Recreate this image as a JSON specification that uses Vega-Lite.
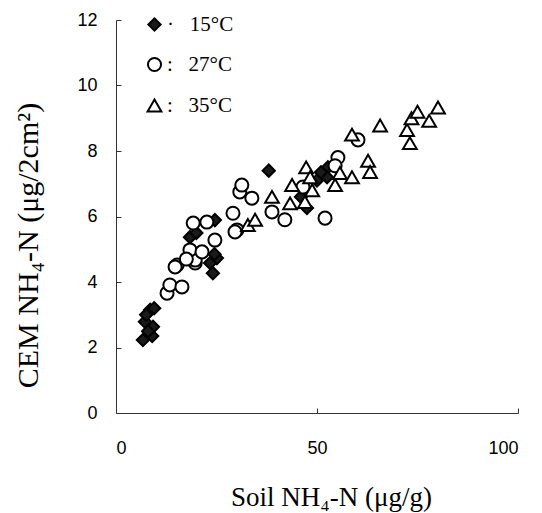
{
  "$schema": "https://vega.github.io/schema/vega-lite/v6.json",
  "width": 402,
  "height": 393,
  "autosize": "none",
  "padding": {"left": 116, "top": 20, "right": 24, "bottom": 100},
  "background": "white",
  "config": {"view": {"stroke": null}},
  "data": {"values": [
    {"t": "15°C", "x": 6.7, "y": 2.23},
    {"t": "15°C", "x": 9.0, "y": 2.35},
    {"t": "15°C", "x": 7.2, "y": 2.79},
    {"t": "15°C", "x": 9.2, "y": 2.63},
    {"t": "15°C", "x": 8.5, "y": 3.15},
    {"t": "15°C", "x": 7.5, "y": 3.0},
    {"t": "15°C", "x": 8.0, "y": 2.5},
    {"t": "15°C", "x": 9.5, "y": 3.2},
    {"t": "15°C", "x": 18.4, "y": 5.37},
    {"t": "15°C", "x": 20.0, "y": 5.5},
    {"t": "15°C", "x": 24.6, "y": 5.89},
    {"t": "15°C", "x": 23.4, "y": 4.58},
    {"t": "15°C", "x": 24.1, "y": 4.27},
    {"t": "15°C", "x": 25.1, "y": 4.73},
    {"t": "15°C", "x": 24.5, "y": 4.85},
    {"t": "15°C", "x": 38.0, "y": 7.4},
    {"t": "15°C", "x": 47.5, "y": 6.26},
    {"t": "15°C", "x": 50.0, "y": 7.1},
    {"t": "15°C", "x": 52.7, "y": 7.5},
    {"t": "15°C", "x": 52.5, "y": 7.2},
    {"t": "15°C", "x": 51.0, "y": 7.35},
    {"t": "15°C", "x": 46.0, "y": 6.6},
    {"t": "27°C", "x": 12.7, "y": 3.66},
    {"t": "27°C", "x": 13.4, "y": 3.91},
    {"t": "27°C", "x": 16.4, "y": 3.85},
    {"t": "27°C", "x": 15.2, "y": 4.52},
    {"t": "27°C", "x": 14.7, "y": 4.46},
    {"t": "27°C", "x": 19.7, "y": 4.58},
    {"t": "27°C", "x": 19.7, "y": 4.67},
    {"t": "27°C", "x": 18.4, "y": 4.98},
    {"t": "27°C", "x": 21.4, "y": 4.92},
    {"t": "27°C", "x": 17.5, "y": 4.7},
    {"t": "27°C", "x": 19.2, "y": 5.8},
    {"t": "27°C", "x": 22.6, "y": 5.83},
    {"t": "27°C", "x": 24.6, "y": 5.28},
    {"t": "27°C", "x": 29.1, "y": 6.1},
    {"t": "27°C", "x": 30.1, "y": 5.59},
    {"t": "27°C", "x": 29.6, "y": 5.53},
    {"t": "27°C", "x": 30.8, "y": 6.75},
    {"t": "27°C", "x": 31.3, "y": 6.96},
    {"t": "27°C", "x": 33.8, "y": 6.56},
    {"t": "27°C", "x": 38.8, "y": 6.14},
    {"t": "27°C", "x": 42.0, "y": 5.9},
    {"t": "27°C", "x": 52.0, "y": 5.95},
    {"t": "27°C", "x": 46.5, "y": 6.9},
    {"t": "27°C", "x": 55.2, "y": 7.8},
    {"t": "27°C", "x": 54.5, "y": 7.55},
    {"t": "27°C", "x": 60.2, "y": 8.34},
    {"t": "35°C", "x": 32.8, "y": 5.74},
    {"t": "35°C", "x": 34.6, "y": 5.9},
    {"t": "35°C", "x": 38.8, "y": 6.6},
    {"t": "35°C", "x": 43.3, "y": 6.4},
    {"t": "35°C", "x": 43.8, "y": 6.96},
    {"t": "35°C", "x": 47.0, "y": 6.44},
    {"t": "35°C", "x": 47.3, "y": 7.5},
    {"t": "35°C", "x": 48.8, "y": 6.8},
    {"t": "35°C", "x": 48.3, "y": 7.2},
    {"t": "35°C", "x": 54.5, "y": 6.96},
    {"t": "35°C", "x": 55.7, "y": 7.33},
    {"t": "35°C", "x": 58.7, "y": 7.2},
    {"t": "35°C", "x": 62.7, "y": 7.7},
    {"t": "35°C", "x": 63.2, "y": 7.36},
    {"t": "35°C", "x": 58.7, "y": 8.5},
    {"t": "35°C", "x": 65.7, "y": 8.78},
    {"t": "35°C", "x": 72.4, "y": 8.64},
    {"t": "35°C", "x": 73.1, "y": 8.24},
    {"t": "35°C", "x": 73.5, "y": 9.0},
    {"t": "35°C", "x": 75.0, "y": 9.2},
    {"t": "35°C", "x": 77.9, "y": 8.92},
    {"t": "35°C", "x": 80.1, "y": 9.33}
  ]},
  "mark": {"type": "point", "stroke": "black", "strokeWidth": 2, "opacity": 1},
  "encoding": {
    "x": {
      "field": "x", "type": "quantitative",
      "scale": {"domain": [0, 100], "nice": false},
      "axis": {
        "values": [0, 50, 100], "grid": false, "tickSize": -5, "tickColor": "#333", "domainColor": "#333",
        "labelFont": "Liberation Sans", "labelFontSize": 18, "labelColor": "black", "labelPadding": 31,
        "title": "Soil NH₄-N (μg/g)", "titleFont": "Liberation Serif", "titleFontSize": 27, "titleFontWeight": "normal",
        "titleColor": "black", "titleX": 215, "titleY": 84, "titleBaseline": "middle"
      }
    },
    "y": {
      "field": "y", "type": "quantitative",
      "scale": {"domain": [0, 12], "nice": false},
      "axis": {
        "values": [0, 2, 4, 6, 8, 10, 12], "grid": false, "tickSize": -5, "tickColor": "#333", "domainColor": "#333",
        "labelFont": "Liberation Sans", "labelFontSize": 18, "labelColor": "black", "labelPadding": 24,
        "title": "CEM NH₄-N (μg/2cm²)", "titleFont": "Liberation Serif", "titleFontSize": 30, "titleFontWeight": "normal",
        "titleColor": "black", "titleX": -88, "titleY": 225, "titleBaseline": "middle", "titleAngle": -90
      }
    },
    "shape": {
      "field": "t", "type": "nominal",
      "scale": {"domain": ["15°C", "27°C", "35°C"], "range": ["diamond", "circle", "triangle-up"]},
      "legend": {
        "title": null, "orient": "none", "legendX": 28, "legendY": -6,
        "labelFont": "Liberation Serif", "labelFontSize": 21, "labelColor": "black",
        "rowPadding": 18, "symbolStrokeWidth": 2, "symbolStrokeColor": "black",
        "labelExpr": "(datum.label === '15°C' ? '·\u00a0\u00a0\u00a0' : ':\u00a0\u00a0\u00a0') + datum.label",
        "labelOffset": 2
      }
    },
    "fill": {
      "field": "t", "type": "nominal",
      "scale": {"domain": ["15°C", "27°C", "35°C"], "range": ["#1a1a1a", "white", "white"]}
    },
    "size": {
      "field": "t", "type": "nominal",
      "scale": {"domain": ["15°C", "27°C", "35°C"], "range": [150, 190, 250]}
    }
  }
}
